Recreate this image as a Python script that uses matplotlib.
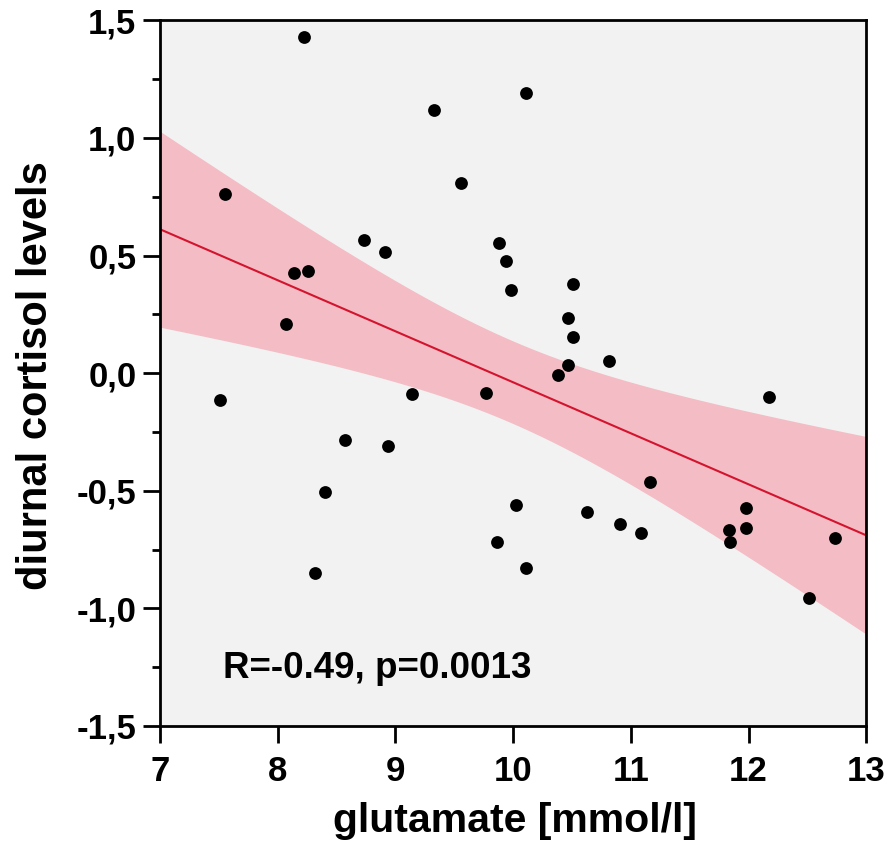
import numpy as np
import matplotlib
matplotlib.use("Agg")
import matplotlib.pyplot as plt
from matplotlib.ticker import MultipleLocator, FuncFormatter

plt.rcParams['font.family'] = ['Liberation Sans', 'DejaVu Sans']
plt.rcParams['font.weight'] = 'bold'

glutamate = [7.55, 7.51, 8.22, 8.14, 8.26, 8.07, 8.32, 8.57, 8.40, 8.73,
             8.91, 8.94, 9.14, 9.33, 9.56, 10.11, 9.88, 9.94, 9.98, 10.51,
             9.77, 10.47, 10.51, 10.47, 10.38, 10.81, 9.86, 10.02, 10.11, 10.63,
             10.91, 11.09, 11.16, 11.83, 11.84, 11.98, 11.98, 12.17, 12.51, 12.73]
cortisol = [0.76, -0.115, 1.43, 0.425, 0.435, 0.21, -0.85, -0.285, -0.505, 0.565,
            0.515, -0.31, -0.09, 1.12, 0.81, 1.19, 0.555, 0.475, 0.355, 0.38,
            -0.085, 0.235, 0.155, 0.035, -0.01, 0.05, -0.72, -0.56, -0.83, -0.59,
            -0.64, -0.68, -0.465, -0.665, -0.72, -0.575, -0.66, -0.10, -0.955, -0.70]
stat_text = 'R=-0.49, p=0.0013'

x = np.array(glutamate)
y = np.array(cortisol)
n = len(x)
b, a = np.polyfit(x, y, 1)
xs = np.linspace(7, 13, 200)
fit = a + b * xs
resid = y - (a + b * x)
s = np.sqrt(np.sum(resid ** 2) / (n - 2))
sxx = np.sum((x - x.mean()) ** 2)
t = 2.024
hw = t * s * np.sqrt(1 / n + (xs - x.mean()) ** 2 / sxx)

fig = plt.figure(figsize=(8.94, 8.48), dpi=100)
ax = fig.add_axes([0.179, 0.144, 0.79, 0.832])
ax.set_facecolor('#f2f2f2')
ax.fill_between(xs, fit - hw, fit + hw, color='#f4bcc4', lw=0, zorder=1)
ax.plot(xs, fit, color='#d4142e', lw=1.5, zorder=2)
ax.scatter(x, y, s=85, color='black', zorder=3, linewidths=0)

ax.set_xlim(7, 13)
ax.set_ylim(-1.5, 1.5)
ax.xaxis.set_major_locator(MultipleLocator(1))
ax.yaxis.set_major_locator(MultipleLocator(0.5))
ax.yaxis.set_minor_locator(MultipleLocator(0.25))
ax.yaxis.set_major_formatter(FuncFormatter(lambda v, p: f"{v:.1f}".replace('.', ',')))
ax.tick_params(axis='both', which='major', labelsize=25, width=2, length=12, direction='out')
ax.tick_params(axis='x', which='major', pad=9)
ax.tick_params(axis='y', which='major', pad=5)
ax.tick_params(axis='y', which='minor', width=2, length=6, direction='out')
for sp in ax.spines.values():
    sp.set_linewidth(2)

fig.text(0.576, 1 - 832 / 848, 'glutamate [mmol/l]', fontsize=29.5, fontweight='bold',
         ha='center', va='baseline')
fig.text(36 / 894, 1 - 376 / 848, 'diurnal cortisol levels', fontsize=30, fontweight='bold',
         ha='center', va='center', rotation=90)
ax.text(7.535, -1.254, stat_text, fontsize=26.5, fontweight='bold', va='center')

fig.savefig('out.png', dpi=100)
